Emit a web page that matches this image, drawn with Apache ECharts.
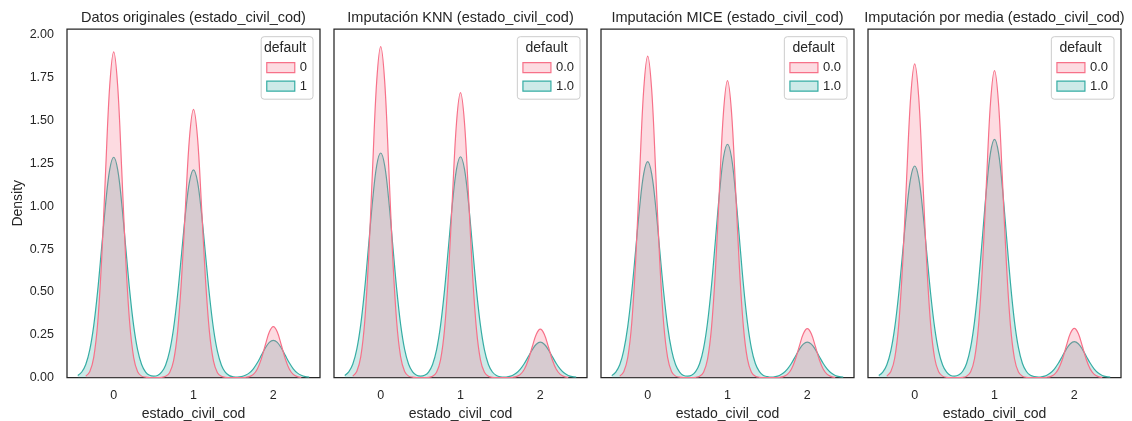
<!DOCTYPE html>
<html><head><meta charset="utf-8">
<script src="https://cdn.jsdelivr.net/npm/echarts@6/dist/echarts.min.js"></script>
<style>html,body{margin:0;padding:0;background:#fff}#c{width:1132px;height:421px}</style>
</head><body><div id="c"></div>
<script>
// ---------- data ----------
const panelTitles = [
  'Datos originales (estado_civil_cod)',
  'Imputación KNN (estado_civil_cod)',
  'Imputación MICE (estado_civil_cod)',
  'Imputación por media (estado_civil_cod)'
];
const legendTitle = 'default';
const hueLabels = [['0', '1'], ['0.0', '1.0'], ['0.0', '1.0'], ['0.0', '1.0']];
const xTickValues = [0, 1, 2];
const yTickValues = [0, 0.25, 0.5, 0.75, 1, 1.25, 1.5, 1.75, 2];
const xLabel = 'estado_civil_cod';
const yLabel = 'Density';

// x positions of the density samples (default = 0 and default = 1)
const xPink = [-0.35,-0.3,-0.25,-0.2,-0.15,-0.1,-0.05,0,0.05,0.1,0.15,0.2,0.25,0.3,0.35,
  0.4,0.45,0.5,0.55,0.6,
  0.65,0.7,0.75,0.8,0.85,0.9,0.95,1,1.05,1.1,1.15,1.2,1.25,1.3,1.35,
  1.4,1.45,1.5,1.55,1.6,
  1.65,1.7,1.75,1.8,1.85,1.9,1.95,2,2.05,2.1,2.15,2.2,2.25,2.3,2.35];
const xTeal = [-0.45,-0.4,-0.35,-0.3,-0.25,-0.2,-0.15,-0.1,-0.05,0,0.05,0.1,0.15,0.2,0.25,0.3,0.35,0.4,0.45,
  0.5,
  0.55,0.6,0.65,0.7,0.75,0.8,0.85,0.9,0.95,1,1.05,1.1,1.15,1.2,1.25,1.3,1.35,1.4,1.45,
  1.5,
  1.55,1.6,1.65,1.7,1.75,1.8,1.85,1.9,1.95,2,2.05,2.1,2.15,2.2,2.25,2.3,2.35,2.4,2.45];

// density values, default = 0 (pink)
const pinkOriginal = [0.008,0.034,0.118,0.321,0.698,1.219,1.702,1.902,1.702,1.219,0.698,0.321,0.118,0.034,0.008,
  0.002,0,0,0,0.001,
  0.007,0.028,0.097,0.265,0.575,1.004,1.402,1.566,1.402,1.004,0.575,0.265,0.097,0.028,0.007,
  0.001,0,0,0,0,
  0.001,0.005,0.018,0.050,0.109,0.190,0.266,0.297,0.266,0.190,0.109,0.050,0.018,0.005,0.001];
const pinkKNN = [0.008,0.035,0.120,0.327,0.709,1.238,1.729,1.932,1.729,1.238,0.709,0.327,0.120,0.035,0.008,
  0.002,0,0,0,0.001,
  0.007,0.030,0.103,0.281,0.610,1.066,1.488,1.663,1.488,1.066,0.610,0.281,0.103,0.030,0.007,
  0.001,0,0,0,0,
  0.001,0.005,0.018,0.048,0.104,0.181,0.253,0.283,0.253,0.181,0.104,0.048,0.018,0.005,0.001];
const pinkMICE = [0.008,0.034,0.116,0.317,0.689,1.203,1.680,1.877,1.680,1.203,0.689,0.317,0.116,0.034,0.008,
  0.002,0,0,0,0.001,
  0.007,0.031,0.107,0.293,0.636,1.111,1.551,1.733,1.551,1.111,0.636,0.293,0.107,0.031,0.007,
  0.001,0,0,0,0,
  0.001,0.005,0.018,0.048,0.105,0.183,0.255,0.285,0.255,0.183,0.105,0.048,0.018,0.005,0.001];
const pinkMedia = [0.008,0.033,0.114,0.309,0.672,1.174,1.639,1.831,1.639,1.174,0.672,0.309,0.114,0.033,0.008,
  0.001,0,0,0,0.001,
  0.008,0.032,0.111,0.303,0.658,1.149,1.604,1.792,1.604,1.149,0.658,0.303,0.111,0.032,0.008,
  0.001,0,0,0,0,
  0.001,0.005,0.018,0.049,0.105,0.184,0.257,0.287,0.257,0.184,0.105,0.049,0.018,0.005,0.001];

// density values, default = 1 (teal)
const tealOriginal = [0.012,0.032,0.076,0.161,0.303,0.509,0.764,1.020,1.214,1.286,1.214,1.020,0.764,0.509,0.303,0.161,0.076,0.032,0.013,
  0.008,
  0.012,0.031,0.072,0.152,0.286,0.480,0.720,0.961,1.144,1.212,1.144,0.961,0.720,0.480,0.286,0.152,0.072,0.030,0.011,
  0.004,
  0.002,0.005,0.013,0.027,0.051,0.086,0.129,0.172,0.205,0.217,0.205,0.172,0.129,0.086,0.051,0.027,0.013,0.005,0.002];
const tealKNN = [0.012,0.033,0.077,0.164,0.309,0.519,0.779,1.040,1.238,1.311,1.238,1.040,0.779,0.519,0.309,0.164,0.077,0.033,0.013,
  0.008,
  0.013,0.032,0.076,0.161,0.304,0.510,0.766,1.022,1.217,1.289,1.217,1.022,0.766,0.510,0.304,0.161,0.076,0.032,0.012,
  0.004,
  0.002,0.005,0.012,0.026,0.049,0.082,0.122,0.163,0.194,0.206,0.194,0.163,0.122,0.082,0.049,0.026,0.012,0.005,0.002];
const tealMICE = [0.011,0.032,0.074,0.158,0.297,0.499,0.748,0.999,1.189,1.260,1.189,0.999,0.748,0.499,0.297,0.158,0.074,0.032,0.012,
  0.008,
  0.013,0.034,0.080,0.170,0.321,0.539,0.809,1.080,1.286,1.362,1.286,1.080,0.809,0.539,0.321,0.170,0.080,0.034,0.012,
  0.005,
  0.002,0.005,0.012,0.026,0.049,0.082,0.123,0.164,0.195,0.207,0.195,0.164,0.123,0.082,0.049,0.026,0.012,0.005,0.002];
const tealMedia = [0.011,0.031,0.073,0.154,0.291,0.489,0.734,0.979,1.166,1.235,1.166,0.979,0.734,0.489,0.291,0.154,0.073,0.031,0.012,
  0.008,
  0.014,0.035,0.082,0.174,0.328,0.551,0.826,1.103,1.313,1.391,1.313,1.103,0.826,0.551,0.328,0.174,0.082,0.035,0.013,
  0.005,
  0.002,0.005,0.012,0.026,0.049,0.083,0.124,0.166,0.197,0.209,0.197,0.166,0.124,0.083,0.049,0.026,0.012,0.005,0.002];

const pinkSeries = [pinkOriginal, pinkKNN, pinkMICE, pinkMedia];
const tealSeries = [tealOriginal, tealKNN, tealMICE, tealMedia];

// ---------- layout / style ----------
const W = 1132;
const FONT = "'Liberation Sans', Arial, sans-serif";
const TXT = '#262626';
const PINK = '#f77189', TEAL = '#36ada4';
const PINK_FILL = 'rgba(247,113,137,0.25)', TEAL_FILL = 'rgba(54,173,164,0.25)';
const gridLeft0 = 67, gridStep = 267, gridW = 253, gridTop = 29, gridH = 348.5;
const legendBoxW = [56, 67, 67, 67];

const grids = [], xAxes = [], yAxes = [], series = [], legends = [], titles = [];
for (let i = 0; i < 4; i++) {
  const left = gridLeft0 + gridStep * i;
  grids.push({left: left, top: gridTop, width: gridW, height: gridH, show: true,
    outerBoundsMode: 'none', containLabel: false,
    borderColor: TXT, borderWidth: 1.25, backgroundColor: 'transparent'});
  xAxes.push({type: 'value', gridIndex: i, min: -0.585, max: 2.585,
    name: xLabel, nameLocation: 'middle', nameGap: 28,
    nameTextStyle: {fontFamily: FONT, fontSize: 14, color: TXT},
    axisLine: {show: false}, axisTick: {show: false}, splitLine: {show: false},
    axisLabel: {customValues: xTickValues, margin: 11.5, fontFamily: FONT, fontSize: 12.5, color: TXT,
      formatter: v => String(v)}});
  yAxes.push({type: 'value', gridIndex: i, min: 0, max: 2.035,
    name: i === 0 ? yLabel : '', nameLocation: 'middle', nameGap: 42,
    nameTextStyle: {fontFamily: FONT, fontSize: 14, color: TXT},
    axisLine: {show: false}, axisTick: {show: false}, splitLine: {show: false},
    axisLabel: {show: i === 0, customValues: yTickValues, margin: 13, fontFamily: FONT, fontSize: 12.5, color: TXT,
      formatter: v => v.toFixed(2)}});
  series.push({type: 'line', name: hueLabels[i][1], xAxisIndex: i, yAxisIndex: i,
    data: xTeal.map((x, k) => [x, tealSeries[i][k]]),
    showSymbol: false, smooth: 0.35, silent: true,
    lineStyle: {color: TEAL, width: 1.2}, itemStyle: {color: TEAL},
    areaStyle: {color: TEAL_FILL, opacity: 1}, z: 2});
  series.push({type: 'line', name: hueLabels[i][0], xAxisIndex: i, yAxisIndex: i,
    data: xPink.map((x, k) => [x, pinkSeries[i][k]]),
    showSymbol: false, smooth: 0.35, silent: true,
    lineStyle: {color: PINK, width: 1.2}, itemStyle: {color: PINK},
    areaStyle: {color: PINK_FILL, opacity: 1}, z: 3});
  const boxRight = left + gridW - 7;
  legends.push({orient: 'vertical', right: W - boxRight, top: 36.7,
    padding: [24.5, 6, 6.5, 5], itemWidth: 28, itemHeight: 10, itemGap: 5.5, itemTextGap: 10,
    icon: 'rect', selectedMode: false,
    backgroundColor: 'rgba(255,255,255,0.8)', borderColor: '#cccccc', borderWidth: 1, borderRadius: 3,
    textStyle: {fontFamily: FONT, fontSize: 13, color: TXT},
    data: [
      {name: hueLabels[i][0], icon: 'rect', itemStyle: {color: PINK_FILL, borderColor: PINK, borderWidth: 1.2}},
      {name: hueLabels[i][1], icon: 'rect', itemStyle: {color: TEAL_FILL, borderColor: TEAL, borderWidth: 1.2}}
    ]});
  titles.push({text: panelTitles[i], left: left + gridW / 2, top: 10.5, textAlign: 'center', padding: 0,
    textStyle: {fontFamily: FONT, fontSize: 14.5, fontWeight: 'normal', color: TXT}});
  titles.push({text: legendTitle, left: boxRight - legendBoxW[i] / 2, top: 41.5, textAlign: 'center', padding: 0,
    z: 10, textStyle: {fontFamily: FONT, fontSize: 14, fontWeight: 'normal', color: TXT}});
}

const chart = echarts.init(document.getElementById('c'), null, {renderer: 'canvas'});
chart.setOption({
  animation: false,
  backgroundColor: '#ffffff',
  title: titles, grid: grids, xAxis: xAxes, yAxis: yAxes, legend: legends, series: series
});
</script>
</body></html>
